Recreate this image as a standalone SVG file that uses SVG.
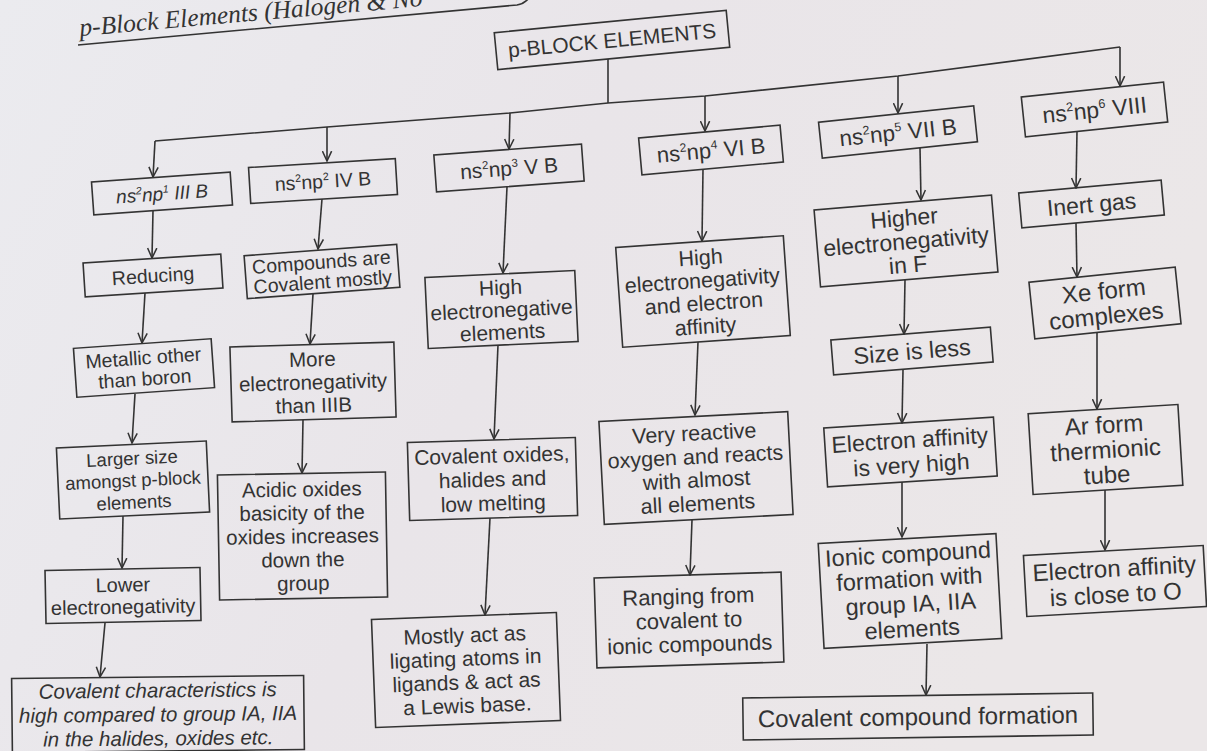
<svg xmlns="http://www.w3.org/2000/svg" width="1207" height="751" viewBox="0 0 1207 751">
<defs>
<linearGradient id="bg" x1="0" y1="0" x2="1" y2="0.3">
<stop offset="0" stop-color="#ebebef"/>
<stop offset="0.5" stop-color="#e9e5e9"/>
<stop offset="1" stop-color="#ebe7e8"/>
</linearGradient>
<marker id="ah" viewBox="0 0 10 10" refX="9.5" refY="5" markerWidth="11" markerHeight="11" markerUnits="userSpaceOnUse" orient="auto">
<path d="M0.5,0.8 L9.5,5 L0.5,9.2" fill="none" stroke="#333" stroke-width="1.4"/>
</marker>
<style>
.b{fill:none;stroke:#333;stroke-width:1.6}
.t{font-family:"Liberation Sans",Arial,sans-serif;fill:#333;text-anchor:middle}
.i{font-style:italic}
.c{fill:none;stroke:#333;stroke-width:1.6}
.a{marker-end:url(#ah)}
</style>
</defs>
<rect x="0" y="0" width="1207" height="751" fill="url(#bg)"/>

<g id="title">
<path d="M78,45 L517,5 Q524,4 529,-2" fill="none" stroke="#333" stroke-width="1.6"/>
<text x="80" y="36" transform="rotate(-5 80 36)" font-family="'Liberation Serif',serif" font-style="italic" font-size="25.5" fill="#333">p-Block Elements (Halogen &amp; No</text>
</g>

<g id="connectors">
<polyline class="c" points="155,141 327,127 510,113 608,103 705,96 898,76 1120,47"/>
<line class="c" x1="608" y1="59" x2="608" y2="103"/>
<line class="c a" x1="155" y1="141" x2="153" y2="177"/>
<line class="c a" x1="327" y1="127" x2="327" y2="161"/>
<line class="c a" x1="510" y1="113" x2="509" y2="149"/>
<line class="c a" x1="705" y1="96" x2="705" y2="131"/>
<line class="c a" x1="898" y1="76" x2="898" y2="113"/>
<line class="c a" x1="1120" y1="47" x2="1120" y2="86"/>
<line class="c a" x1="153" y1="211" x2="152" y2="258"/>
<line class="c a" x1="145" y1="293" x2="142" y2="343"/>
<line class="c a" x1="135" y1="394" x2="132" y2="443"/>
<line class="c a" x1="123" y1="516" x2="122" y2="568"/>
<line class="c a" x1="105" y1="623" x2="100" y2="677"/>
<line class="c a" x1="322" y1="199" x2="318" y2="249"/>
<line class="c a" x1="313" y1="294" x2="310" y2="344"/>
<line class="c a" x1="303" y1="420" x2="302" y2="473"/>
<line class="c a" x1="507" y1="187" x2="503" y2="273"/>
<line class="c a" x1="498" y1="345" x2="494" y2="439"/>
<line class="c a" x1="490" y1="518" x2="485" y2="615"/>
<line class="c a" x1="703" y1="169" x2="702" y2="241"/>
<line class="c a" x1="698" y1="342" x2="695" y2="415"/>
<line class="c a" x1="692" y1="520" x2="690" y2="575"/>
<line class="c a" x1="920" y1="148" x2="921" y2="200"/>
<line class="c a" x1="905" y1="280" x2="904" y2="334"/>
<line class="c a" x1="903" y1="370" x2="902" y2="423"/>
<line class="c a" x1="902" y1="482" x2="902" y2="537"/>
<line class="c a" x1="927" y1="644" x2="926" y2="695"/>
<line class="c a" x1="1077" y1="131" x2="1076" y2="188"/>
<line class="c a" x1="1076" y1="223" x2="1077" y2="277"/>
<line class="c a" x1="1097" y1="332" x2="1097" y2="409"/>
<line class="c a" x1="1105" y1="490" x2="1105" y2="550"/>
</g>

<g id="n-pblock" transform="translate(612,40) rotate(-5.5)">
<rect class="b" x="-116.5" y="-18.5" width="233" height="37"/>
<text class="t" y="7.6" font-size="21">p-BLOCK ELEMENTS</text>
</g>

<g id="n-3b" transform="translate(162,193.5) rotate(-4.1)">
<rect class="b" x="-69.5" y="-16.5" width="139" height="33"/>
<text class="t i" y="6.8" font-size="19">ns<tspan font-size="10.5" dy="-7.6">2</tspan><tspan dy="7.6">np</tspan><tspan font-size="10.5" dy="-7.6">1</tspan><tspan dy="7.6"> III B</tspan></text>
</g>
<g id="n-4b" transform="translate(323,181) rotate(-3.5)">
<rect class="b" x="-73.5" y="-18" width="147" height="36"/>
<text class="t" y="7" font-size="19.5">ns<tspan font-size="10.7" dy="-7.8">2</tspan><tspan dy="7.8">np</tspan><tspan font-size="10.7" dy="-7.8">2</tspan><tspan dy="7.8"> IV B</tspan></text>
</g>
<g id="n-5b" transform="translate(509,168) rotate(-4.2)">
<rect class="b" x="-74" y="-18.5" width="148" height="37"/>
<text class="t" y="7.6" font-size="21">ns<tspan font-size="11.5" dy="-8.4">2</tspan><tspan dy="8.4">np</tspan><tspan font-size="11.5" dy="-8.4">3</tspan><tspan dy="8.4"> V B</tspan></text>
</g>
<g id="n-6b" transform="translate(711,150) rotate(-5.2)">
<rect class="b" x="-71" y="-18.5" width="142" height="37"/>
<text class="t" y="7.9" font-size="22">ns<tspan font-size="12" dy="-8.8">2</tspan><tspan dy="8.8">np</tspan><tspan font-size="12" dy="-8.8">4</tspan><tspan dy="8.8"> VI B</tspan></text>
</g>
<g id="n-7b" transform="translate(898,132) rotate(-6)">
<rect class="b" x="-78" y="-18" width="156" height="36"/>
<text class="t" y="8.1" font-size="22.5">ns<tspan font-size="12.4" dy="-9">2</tspan><tspan dy="9">np</tspan><tspan font-size="12.4" dy="-9">5</tspan><tspan dy="9"> VII B</tspan></text>
</g>
<g id="n-8" transform="translate(1094.5,109.5) rotate(-6)">
<rect class="b" x="-71.5" y="-20" width="143" height="40"/>
<text class="t" y="8.3" font-size="23">ns<tspan font-size="12.6" dy="-9.2">2</tspan><tspan dy="9.2">np</tspan><tspan font-size="12.6" dy="-9.2">6</tspan><tspan dy="9.2"> VIII</tspan></text>
</g>

<g id="n-reducing" transform="translate(153,275.5) rotate(-3.7)">
<rect class="b" x="-69" y="-17" width="138" height="34"/>
<text class="t" y="7" font-size="19.5">Reducing</text>
</g>
<g id="n-metallic" transform="translate(144,368) rotate(-4)">
<rect class="b" x="-69" y="-24.5" width="138" height="49"/>
<text class="t" font-size="19.5"><tspan x="0" y="-3.5">Metallic other</tspan><tspan x="0" y="17.5">than boron</tspan></text>
</g>
<g id="n-larger" transform="translate(133,480) rotate(-2.7)">
<rect class="b" x="-75" y="-35.5" width="150" height="71"/>
<text class="t" font-size="18.5"><tspan x="0" y="-15.3">Larger size</tspan><tspan x="0" y="6.7">amongst p-block</tspan><tspan x="0" y="28.7">elements</tspan></text>
</g>
<g id="n-lower" transform="translate(123,595.5) rotate(-1.1)">
<rect class="b" x="-77.5" y="-26.5" width="155" height="53"/>
<text class="t" font-size="20"><tspan x="0" y="-3.8">Lower</tspan><tspan x="0" y="18.2">electronegativity</tspan></text>
</g>
<g id="n-covchar" transform="translate(158,714) rotate(-0.6)">
<rect class="b" x="-146" y="-37" width="292" height="74"/>
<text class="t i" font-size="20.5"><tspan x="0" y="-16.6">Covalent characteristics is</tspan><tspan x="0" y="7.4">high compared to group IA, IIA</tspan><tspan x="0" y="31.4">in the halides, oxides etc.</tspan></text>
</g>

<g id="n-compounds" transform="translate(322,271.5) rotate(-4.3)">
<rect class="b" x="-76.5" y="-21.5" width="153" height="43"/>
<text class="t" font-size="19.5"><tspan x="0" y="-2.8">Compounds are</tspan><tspan x="0" y="17">Covalent mostly</tspan></text>
</g>
<g id="n-more" transform="translate(313,382) rotate(-1.7)">
<rect class="b" x="-82" y="-37.5" width="164" height="75"/>
<text class="t" font-size="20.5"><tspan x="0" y="-15.6">More</tspan><tspan x="0" y="7.4">electronegativity</tspan><tspan x="0" y="30.4">than IIIB</tspan></text>
</g>
<g id="n-acidic" transform="translate(302.5,536) rotate(-1)">
<rect class="b" x="-84" y="-62.5" width="168" height="125"/>
<text class="t" font-size="20.5"><tspan x="0" y="-39.6">Acidic oxides</tspan><tspan x="0" y="-16.1">basicity of the</tspan><tspan x="0" y="7.4">oxides increases</tspan><tspan x="0" y="30.9">down the</tspan><tspan x="0" y="54.4">group</tspan></text>
</g>

<g id="n-highneg" transform="translate(501.5,309.5) rotate(-2.7)">
<rect class="b" x="-75" y="-35.5" width="150" height="71"/>
<text class="t" font-size="21"><tspan x="0" y="-14.9">High</tspan><tspan x="0" y="7.6">electronegative</tspan><tspan x="0" y="30.1">elements</tspan></text>
</g>
<g id="n-covox" transform="translate(492.5,479) rotate(-1.7)">
<rect class="b" x="-84" y="-39" width="168" height="78"/>
<text class="t" font-size="21"><tspan x="0" y="-16.4">Covalent oxides,</tspan><tspan x="0" y="7.6">halides and</tspan><tspan x="0" y="31.6">low melting</tspan></text>
</g>
<g id="n-mostly" transform="translate(466,670) rotate(-2.2)">
<rect class="b" x="-92.5" y="-54" width="185" height="108"/>
<text class="t" font-size="21"><tspan x="0" y="-27.7">Mostly act as</tspan><tspan x="0" y="-4.2">ligating atoms in</tspan><tspan x="0" y="19.3">ligands &amp; act as</tspan><tspan x="0" y="42.8">a Lewis base.</tspan></text>
</g>

<g id="n-highea" transform="translate(703,291.5) rotate(-4)">
<rect class="b" x="-84" y="-50" width="168" height="100"/>
<text class="t" font-size="21.5"><tspan x="0" y="-26.8">High</tspan><tspan x="0" y="-3.8">electronegativity</tspan><tspan x="0" y="19.2">and electron</tspan><tspan x="0" y="42.2">affinity</tspan></text>
</g>
<g id="n-very" transform="translate(696,468) rotate(-3)">
<rect class="b" x="-94.5" y="-51.5" width="189" height="103"/>
<text class="t" font-size="21.5"><tspan x="0" y="-27.5">Very reactive</tspan><tspan x="0" y="-4">oxygen and reacts</tspan><tspan x="0" y="19.5">with almost</tspan><tspan x="0" y="43">all elements</tspan></text>
</g>
<g id="n-ranging" transform="translate(689,620) rotate(-1.8)">
<rect class="b" x="-93.5" y="-45" width="187" height="90"/>
<text class="t" font-size="22"><tspan x="0" y="-16.1">Ranging from</tspan><tspan x="0" y="7.9">covalent to</tspan><tspan x="0" y="31.9">ionic compounds</tspan></text>
</g>

<g id="n-higher" transform="translate(906,241) rotate(-4.8)">
<rect class="b" x="-89" y="-38.5" width="178" height="77"/>
<text class="t" font-size="23"><tspan x="0" y="-15.2">Higher</tspan><tspan x="0" y="8.3">electronegativity</tspan><tspan x="0" y="31.8">in F</tspan></text>
</g>
<g id="n-size" transform="translate(912,351) rotate(-4.6)">
<rect class="b" x="-80" y="-17.5" width="160" height="35"/>
<text class="t" y="8.5" font-size="23.5">Size is less</text>
</g>
<g id="n-eahigh" transform="translate(910.5,452) rotate(-3.7)">
<rect class="b" x="-85" y="-29.5" width="170" height="59"/>
<text class="t" font-size="23"><tspan x="0" y="-4.2">Electron affinity</tspan><tspan x="0" y="20.8">is very high</tspan></text>
</g>
<g id="n-ionic" transform="translate(910,591) rotate(-3.2)">
<rect class="b" x="-89" y="-52.5" width="178" height="105"/>
<text class="t" font-size="23.5"><tspan x="0" y="-29">Ionic compound</tspan><tspan x="0" y="-4">formation with</tspan><tspan x="0" y="21">group IA, IIA</tspan><tspan x="0" y="46">elements</tspan></text>
</g>
<g id="n-ccf" transform="translate(918,716.5) rotate(-0.8)">
<rect class="b" x="-175" y="-21" width="350" height="42"/>
<text class="t" y="8.6" font-size="24">Covalent compound formation</text>
</g>

<g id="n-inert" transform="translate(1091.5,204) rotate(-5.2)">
<rect class="b" x="-71.5" y="-17.5" width="143" height="35"/>
<text class="t" y="8.3" font-size="23">Inert gas</text>
</g>
<g id="n-xe" transform="translate(1105,303) rotate(-5.9)">
<rect class="b" x="-73.5" y="-28.5" width="147" height="57"/>
<text class="t" font-size="24"><tspan x="0" y="-3.9">Xe form</tspan><tspan x="0" y="21.1">complexes</tspan></text>
</g>
<g id="n-ar" transform="translate(1105.5,449.5) rotate(-3.5)">
<rect class="b" x="-75" y="-40.5" width="150" height="81"/>
<text class="t" font-size="24"><tspan x="0" y="-16.4">Ar form</tspan><tspan x="0" y="8.6">thermionic</tspan><tspan x="0" y="33.6">tube</tspan></text>
</g>
<g id="n-eaclose" transform="translate(1115,581) rotate(-3.2)">
<rect class="b" x="-90" y="-30.5" width="180" height="61"/>
<text class="t" font-size="24"><tspan x="0" y="-4.4">Electron affinity</tspan><tspan x="0" y="21.6">is close to O</tspan></text>
</g>
</svg>
